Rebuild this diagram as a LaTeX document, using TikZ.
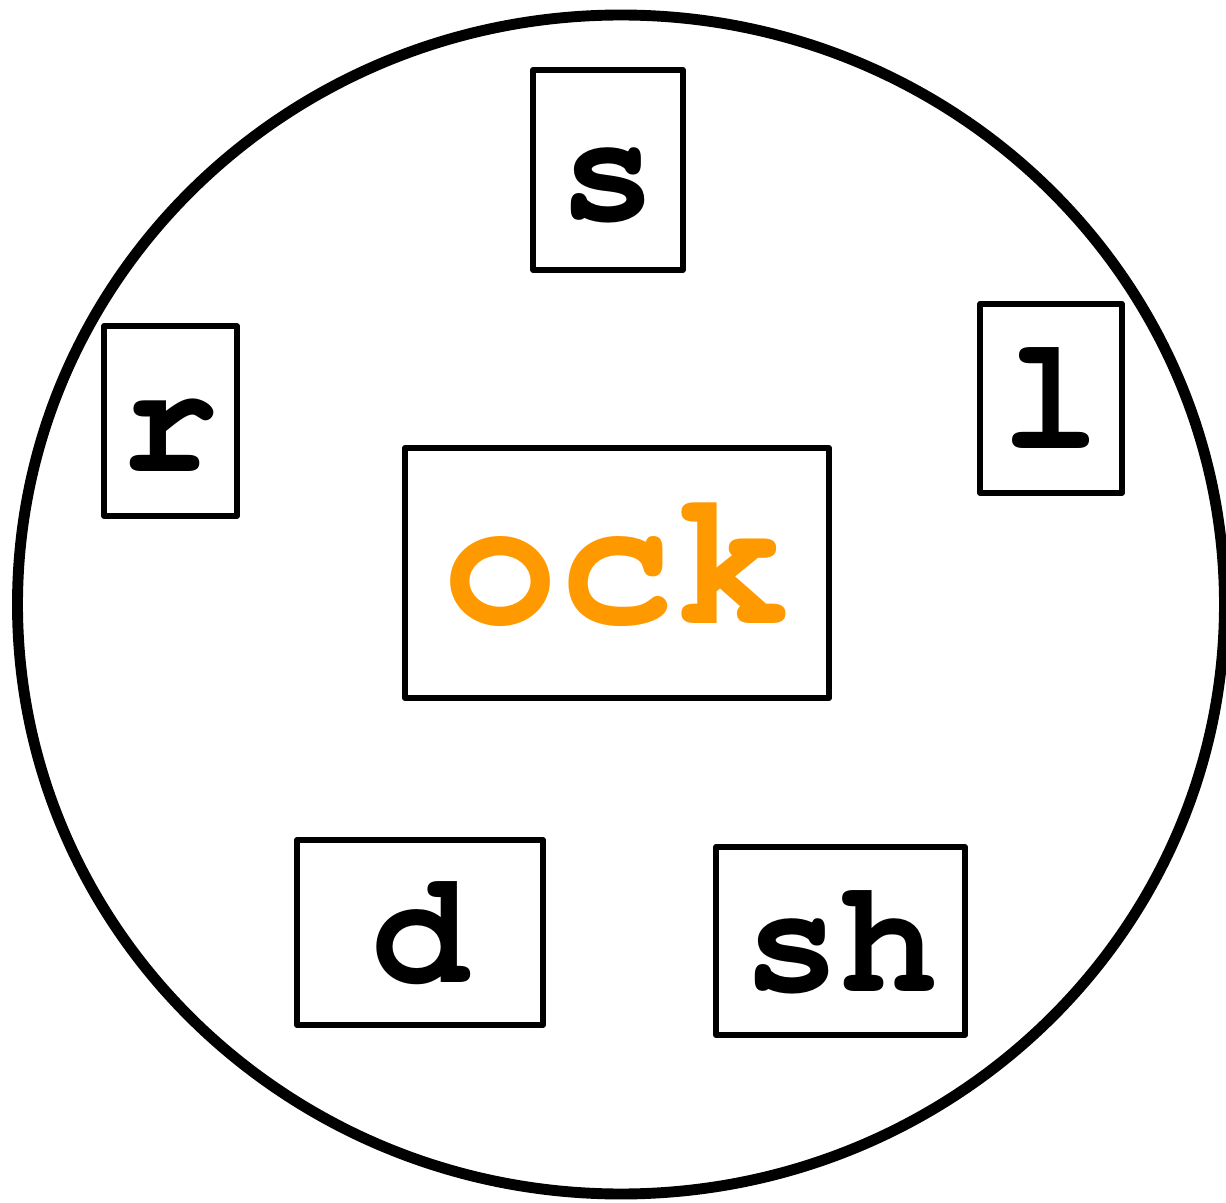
\documentclass[tikz,border=0pt]{standalone}
\usepackage{fontspec}
\setmonofont{TeX Gyre Cursor}
\definecolor{ockorange}{RGB}{255,153,0}

\tikzset{every picture/.style={line width=0.75pt}}
\tikzset{
  letterbox/.style={draw, line width=1.6pt, line join=round, inner sep=0pt,
    font=\ttfamily\bfseries\fontsize{46}{50}\selectfont,
    text height=1cm, text depth=0pt},
  bigletters/.style={font=\ttfamily\bfseries\fontsize{55}{60}\selectfont, text=ockorange},
}

\begin{document}
\begin{tikzpicture}[x=0.01cm, y=-0.01cm]
    \useasboundingbox (0,0) rectangle (1226,1203);
    \draw[line width=3.1pt] (621,604.5) ellipse (603.5 and 589.5);
    \node[letterbox, minimum width=1.50cm, minimum height=2.00cm] (s) at (608,170) {s};
    \node[letterbox, minimum width=1.33cm, minimum height=1.90cm] (r) at (170.5,421) {r};
    \node[letterbox, minimum width=1.42cm, minimum height=1.89cm] (l) at (1051,398.5) {l};
    \node[letterbox, bigletters, minimum width=4.24cm, minimum height=2.50cm] (ock) at (617,573) {ock};
    \node[letterbox, minimum width=2.46cm, minimum height=1.85cm] (d) at (420,932.5) {d};
    \node[letterbox, minimum width=2.49cm, minimum height=1.88cm] (sh) at (840.5,941) {sh};
\end{tikzpicture}
\end{document}
